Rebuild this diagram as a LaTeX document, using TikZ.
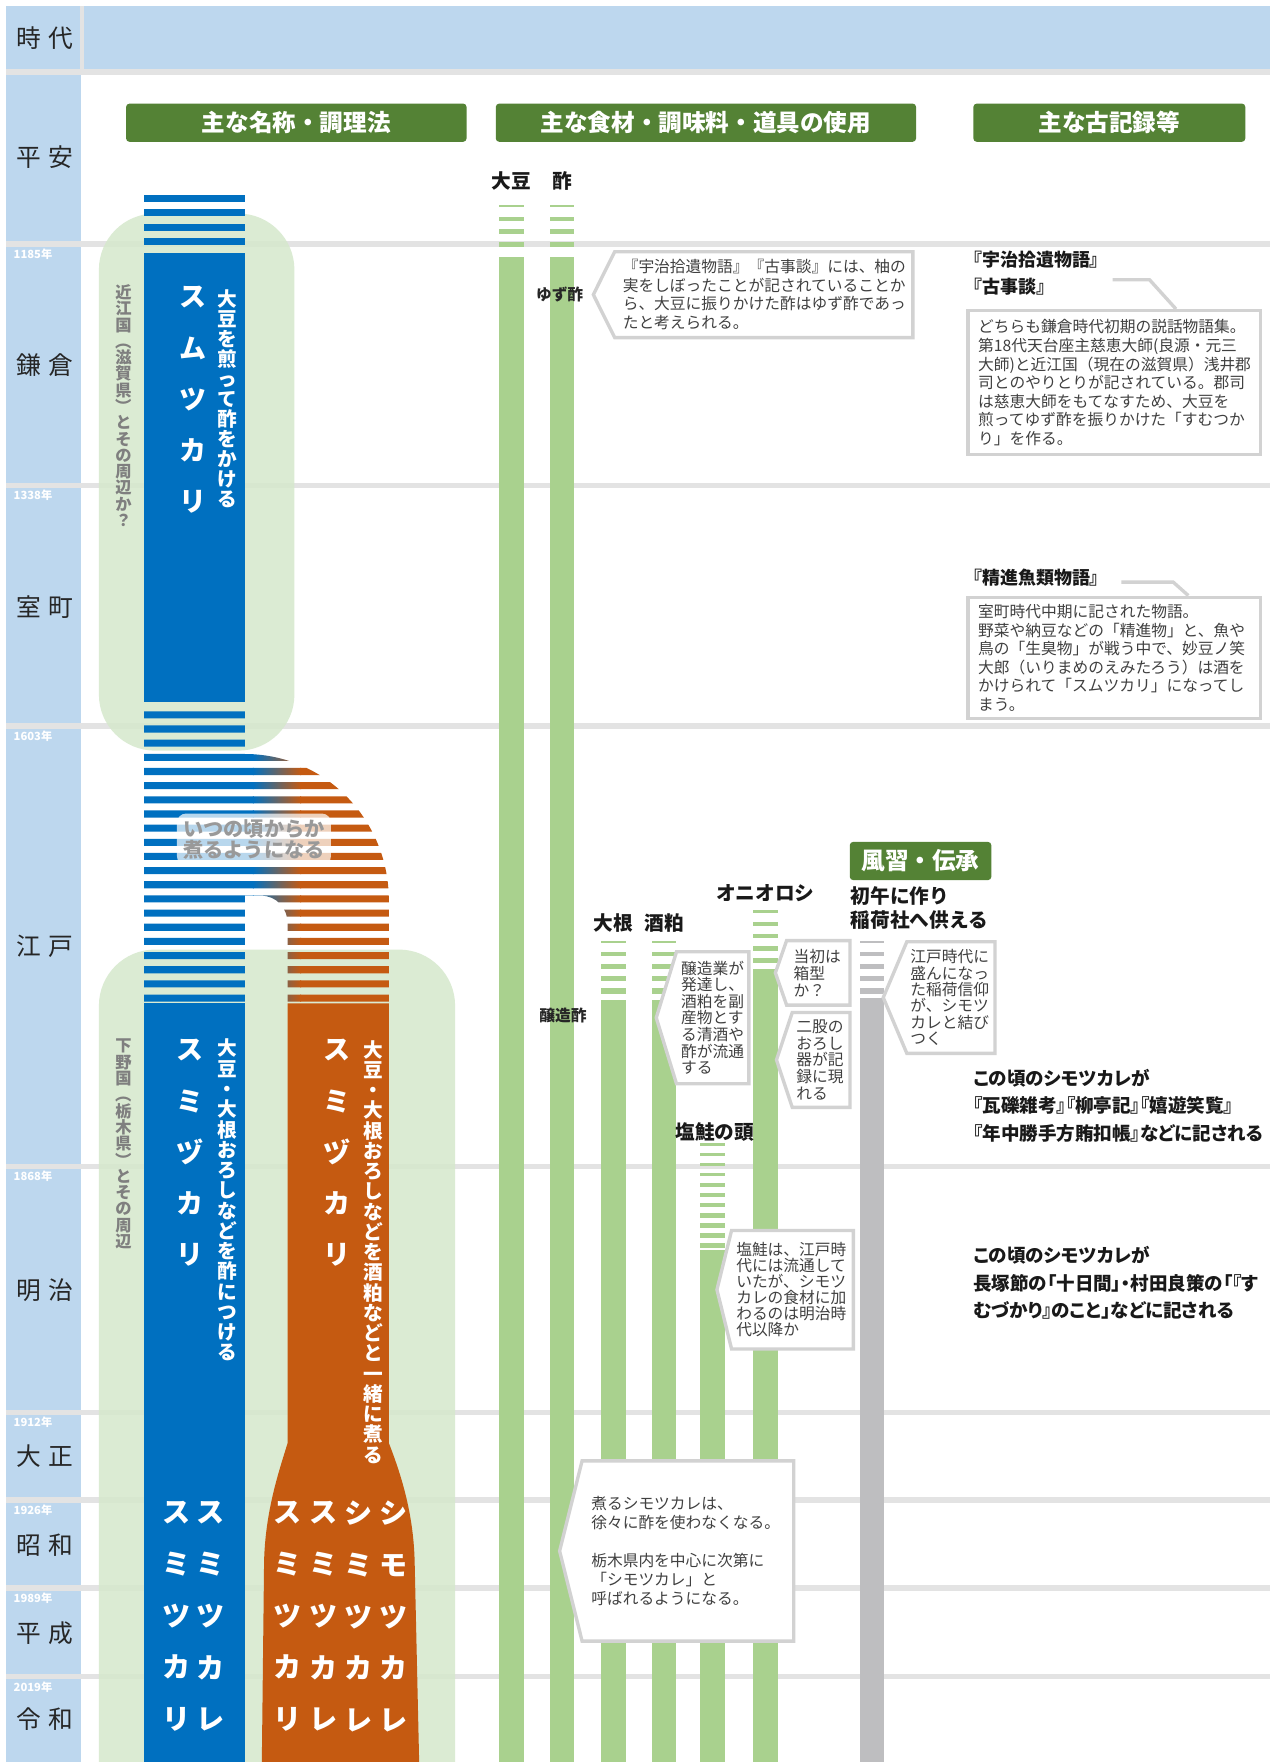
\documentclass[tikz,border=0pt]{standalone}
\usepackage{fontspec}
\setmainfont{Noto Sans CJK JP}
\newfontfamily\propfont{Noto Sans CJK JP}[RawFeature=+palt]
\usepackage{graphicx}
\usetikzlibrary{positioning}

\definecolor{erablue}{HTML}{BDD7EE}
\definecolor{linegray}{HTML}{E3E3E3}
\definecolor{headgreen}{HTML}{548235}
\definecolor{areagreen}{HTML}{D5E8CC}
\definecolor{sumiblue}{HTML}{0070C0}
\definecolor{nioorange}{HTML}{C55A11}
\definecolor{bargreen}{HTML}{A9D18E}
\definecolor{bargray}{HTML}{BEBEC0}
\definecolor{framegray}{HTML}{D2D2D2}
\definecolor{notegray}{HTML}{404040}
\definecolor{areatext}{HTML}{7F7F7F}

% vertical (tategaki) stack of characters
\ExplSyntaxOn
\NewDocumentCommand\tate{O{1}m}
 {
  \vbox:n
   {
    \skip_set:Nn \baselineskip { #1 em }
    \dim_set:Nn \lineskiplimit { -\c_max_dim }
    \exp_args:No \tl_map_inline:nn {#2}
     {
      \hbox_to_wd:nn { 1em }
       {
        \hss
        \str_case:nnF {##1}
         {
          {（} { \raisebox{0.85em}{\rotatebox{-90}{（}} }
          {）} { \raisebox{0.85em}{\rotatebox{-90}{）}} }
         }
         {##1}
        \hss
       }
     }
   }
 }
\ExplSyntaxOff

% bar that fades in with stripes: x-left, x-right, first stripe, count, period, solid start, colour
\newcommand\fadecol[7]{%
  \foreach \k in {1,...,#4}
    \fill[#7] (#1,{#3+(\k-1)*#5}) rectangle (#2,{#3+(\k-1)*#5+2.5+2.5*(\k-1)/max(#4-1,1)});
  \fill[#7] (#1,#6) rectangle (#2,1568);}

% callout frame with pointer on the left
\newcommand\noteframe[2]{%
  \fill[white] (#1.north west) -- ([xshift=-#2pt]#1.west) -- (#1.south west) -- cycle;
  \draw[frameline] (#1.north west) -- (#1.north east) -- (#1.south east)
    -- (#1.south west) -- ([xshift=-#2pt]#1.west) -- cycle;}

\tikzset{
  erahead/.style={font=\fontsize{22}{22}\selectfont, text=black!85, inner sep=0pt},
  yearlbl/.style={font=\bfseries\fontsize{10}{10}\selectfont, text=white, anchor=west, inner sep=0pt},
  catbox/.style={fill=headgreen, text=white, font=\bfseries\fontsize{21}{21}\selectfont,
    rounded corners=3pt, anchor=north west, inner sep=0pt, minimum height=34pt},
  matlbl/.style={font=\bfseries\fontsize{17.5}{21}\selectfont, text=black!90, inner sep=0pt},
  smalllbl/.style={font=\bfseries\fontsize{14}{14}\selectfont, text=black!85, inner sep=0pt},
  tatebig/.style={font=\bfseries\fontsize{24}{24}\selectfont, text=white, inner sep=0pt},
  tatesmall/.style={font=\bfseries\fontsize{17.5}{17.5}\selectfont, text=white, inner sep=0pt},
  areatxt/.style={font=\bfseries\fontsize{14.5}{14.5}\selectfont, text=areatext, inner sep=0pt},
  note/.style={fill=white, text=notegray, font=\fontsize{14}{16.5}\selectfont,
    align=left, anchor=north west, inner ysep=0pt},
  record/.style={note, draw=framegray, line width=3pt},
  frameline/.style={draw=framegray, line width=3pt},
  rectxt/.style={font=\propfont\bfseries\fontsize{16.5}{24.5}\selectfont, text=black!90,
    align=left, anchor=north west, inner sep=0pt},
  rechead/.style={font=\propfont\bfseries\fontsize{16}{16}\selectfont, text=black!90,
    anchor=west, inner sep=0pt},
}

\begin{document}
\begin{tikzpicture}[x=1pt, y=-1pt]
  \useasboundingbox[fill=white] (0,0) rectangle (1132,1568);

  % header and era column
  \fill[erablue] (5,5) rectangle (1130,61);
  \fill[linegray] (71,5) rectangle (75,61);
  \fill[linegray] (5,61) rectangle (1130,67);
  \fill[erablue] (5,67) rectangle (72,1568);
  \node[erahead] (jidai) at (40,34) {時\hspace{6pt}代};

  \foreach \y in {217,432,646,1038,1257,1335,1413,1492}
    \fill[linegray] (5,{\y-2.5}) rectangle (1130,{\y+2.5});
  \foreach \y/\yr in {217/1185,432/1338,646/1603,1038/1868,1257/1912,1335/1926,1413/1989,1492/2019}
    \node[yearlbl] (yr\yr) at (12,{\y+9}) {\yr 年};
  \foreach \y/\a/\b/\nm in {140/平/安/heian,325/鎌/倉/kamakura,540/室/町/muromachi,
      842/江/戸/edo,1148/明/治/meiji,1296/大/正/taisho,1375/昭/和/showa,
      1453/平/成/heisei,1530/令/和/reiwa}
    \node[erahead] (\nm) at (40,\y) {\a\hspace{6pt}\b};

  % regions
  \fill[areagreen, fill opacity=0.85, rounded corners=50pt] (88,190) rectangle (262,668);
  \fill[areagreen, fill opacity=0.85, rounded corners=50pt] (88,845) rectangle (405,1700);

  % sumitsukari bars
  \foreach \k in {0,...,3}
    \fill[sumiblue] (128,{173.4+12.9*\k}) rectangle (218,{179.7+12.9*\k});
  \fill[sumiblue] (128,225) rectangle (218,625);
  \begin{scope}
    \clip \foreach \k in {0,...,20} {(120,{633+12.6*\k}) rectangle (360,{639.3+12.6*\k})};
    \clip (128,620) -- (218,620) -- (218,671) .. controls (289,671) and (346,729) .. (346,801)
      -- (346,895) -- (256,895) -- (256,822) .. controls (256,808) and (246,797) .. (232,797)
      -- (218,797) -- (218,895) -- (128,895) -- cycle;
    \fill[sumiblue] (128,600) rectangle (226,900);
    \shade[left color=sumiblue, right color=nioorange] (225,600) rectangle (268,900);
    \fill[nioorange] (267,600) rectangle (350,900);
  \end{scope}
  \fill[sumiblue] (128,893) rectangle (218,1568);
  \fill[nioorange] (256,893) -- (346,893) -- (346,1284) .. controls (356,1310) and (368,1345) .. (369,1390)
    -- (373,1568) -- (233,1568) -- (235,1390) .. controls (236,1345) and (248,1310) .. (256,1284) -- cycle;

  \node[fill=white, fill opacity=0.72, text opacity=1, text=black!40, rounded corners=8pt,
    font=\bfseries\fontsize{18}{18}\selectfont, align=left, minimum width=137pt,
    minimum height=46pt, inner sep=0pt] (itsuno) at (226,747) {いつの頃からか\\煮るようになる};

  \node[areatxt] (oumi) at (110,361) {\tate{近江国（滋賀県）とその周辺か？}};
  \node[areatxt] (shimotsuke) at (110,1018) {\tate{下野国（栃木県）とその周辺}};
  \node[tatebig] (sumu) at (172,356) {\tate[1.9]{スムツカリ}};
  \node[tatesmall] (sumudesc) at (202,355) {\tate[1.02]{大豆を煎って酢をかける}};
  \node[tatebig] (sumiblue) at (169,1026) {\tate[1.9]{スミヅカリ}};
  \node[tatesmall] (sumibluedesc) at (202,1068) {\tate[1.03]{大豆・大根おろしなどを酢につける}};
  \node[tatebig] (sumiorange) at (300,1026) {\tate[1.9]{スミヅカリ}};
  \node[tatesmall] (sumiorangedesc) at (332,1114) {\tate[1.03]{大豆・大根おろしなどを酒粕などと一緒に煮る}};
  \foreach \x/\w/\nm in {157/スミツカリ/nowa,187/スミツカレ/nowb,256/スミツカリ/nowc,
      288/スミツカレ/nowd,319/シミツカレ/nowe,350/シモツカレ/nowf}
    \node[tatebig, font=\bfseries\fontsize{25}{25}\selectfont] (\nm) at (\x,1438.5) {\tate[1.84]{\w}};

  % ingredient bars
  \fadecol{444}{466}{182}{4}{11}{229}{bargreen}
  \fadecol{489}{511}{182}{4}{11}{229}{bargreen}
  \fadecol{535}{557}{837}{5}{10.6}{890}{bargreen}
  \fadecol{580}{602}{837}{5}{10.6}{890}{bargreen}
  \fadecol{623}{645}{1017}{11}{8.9}{1112}{bargreen}
  \fadecol{670}{692}{810}{5}{10.6}{862}{bargreen}
  \fadecol{765}{787}{837}{5}{10.6}{888}{bargray}

  \node[matlbl] (daizu) at (455,161) {大豆};
  \node[matlbl] (su) at (500,161) {酢};
  \node[matlbl] (daikon) at (546,821) {大根};
  \node[matlbl] (sakekasu) at (591,821) {酒粕};
  \node[matlbl] (onioroshi) at (681,795) {オニオロシ};
  \node[matlbl] (shiozake) at (636,1007) {塩鮭の頭};
  \node[matlbl, anchor=west, align=left] (hatsuuma) at (757,808) {初午に作り\\稲荷社へ供える};
  \node[smalllbl] (yuzusu) at (498,262) {ゆず酢};
  \node[smalllbl] (jozosu) at (501,904) {醸造酢};

  % headings
  \node[catbox, minimum width=303pt] (catname) at (112,92) {主な名称・調理法};
  \node[catbox, minimum width=374pt] (catfood) at (441,92) {主な食材・調味料・道具の使用};
  \node[catbox, minimum width=242pt] (catrec) at (866,92) {主な古記録等};
  \node[catbox, minimum width=126pt] (catcustom) at (756,749) {風習・伝承};

  % callouts
  \node[note, text width=251pt, inner xsep=7pt, minimum height=76pt] (noteyuzu) at (547,224)
    {『宇治拾遺物語』『古事談』には、柚の\\実をしぼったことが記されていることか\\ら、大豆に振りかけた酢はゆず酢であっ\\たと考えられる。};
  \noteframe{noteyuzu}{19}
  \node[note, font=\fontsize{14}{14.7}\selectfont, text width=56pt, inner xsep=4pt, minimum height=117pt] (notejozo) at (602,847)
    {醸造業が\\発達し、\\酒粕を副\\産物とす\\る清酒や\\酢が流通\\する};
  \noteframe{notejozo}{18}
  \node[note, font=\fontsize{14}{15}\selectfont, text width=44pt, inner xsep=6pt, minimum height=57pt] (notehako) at (700,837)
    {当初は\\箱型\\か？};
  \noteframe{notehako}{10}
  \node[note, font=\fontsize{14}{15}\selectfont, text width=44pt, inner xsep=3.5pt, minimum height=84pt] (notefuta) at (705,901)
    {二股の\\おろし\\器が記\\録に現\\れる};
  \noteframe{notefuta}{14}
  \node[note, font=\fontsize{14}{14.6}\selectfont, text width=72pt, inner xsep=3pt, minimum height=99pt] (noteinari) at (807,838)
    {江戸時代に\\盛んになっ\\た稲荷信仰\\が、シモツ\\カレと結び\\つく};
  \noteframe{noteinari}{21}
  \node[note, font=\fontsize{14}{14.2}\selectfont, text width=100pt, inner xsep=4pt, minimum height=105pt] (noteshio) at (651,1095)
    {塩鮭は、江戸時\\代には流通して\\いたが、シモツ\\カレの食材に加\\わるのは明治時\\代以降か};
  \noteframe{noteshio}{13}
  \node[note, font=\fontsize{14}{17}\selectfont, text width=172pt, inner xsep=8pt, minimum height=160pt] (noteniru) at (518,1300)
    {煮るシモツカレは、\\徐々に酢を使わなくなる。\\[17pt]栃木県内を中心に次第に\\「シモツカレ」と\\呼ばれるようになる。};
  \noteframe{noteniru}{20}

  % old records
  \node[rechead] (uji) at (866,231) {『宇治拾遺物語』};
  \node[rechead] (kojidan) at (866,255) {『古事談』};
  \node[record, text width=242pt, inner xsep=9pt, minimum height=128pt] (recB) at (860,275)
    {どちらも鎌倉時代初期の説話物語集。\\第18代天台座主慈恵大師(良源・元三\\大師)と近江国（現在の滋賀県）浅井郡\\司とのやりとりが記されている。郡司\\は慈恵大師をもてなすため、大豆を\\煎ってゆず酢を振りかけた「すむつか\\り」を作る。};
  \coordinate (legB) at (990,249);
  \draw[frameline] (legB) -- ++(33,0) -- ([xshift=55pt]recB.north);

  \node[rechead] (shojin) at (866,514) {『精進魚類物語』};
  \node[record, text width=242pt, inner xsep=9pt, minimum height=108pt] (recC) at (860,530)
    {室町時代中期に記された物語。\\野菜や納豆などの「精進物」と、魚や\\鳥の「生臭物」が戦う中で、妙豆ノ笑\\大郎（いりまめのえみたろう）は酒を\\かけられて「スムツカリ」になってし\\まう。};
  \coordinate (legC) at (998,518);
  \draw[frameline] (legC) -- ++(46,0) -- ([xshift=66pt]recC.north);

  \node[rectxt] (recedo) at (866,951)
    {この頃のシモツカレが\\『瓦礫雑考』『柳亭記』『嬉遊笑覧』\\『年中勝手方賄扣帳』などに記される};
  \node[rectxt] (recmeiji) at (866,1109)
    {この頃のシモツカレが\\長塚節の「十日間」・村田良策の「『す\\むづかり』のこと」などに記される};
\end{tikzpicture}
\end{document}
